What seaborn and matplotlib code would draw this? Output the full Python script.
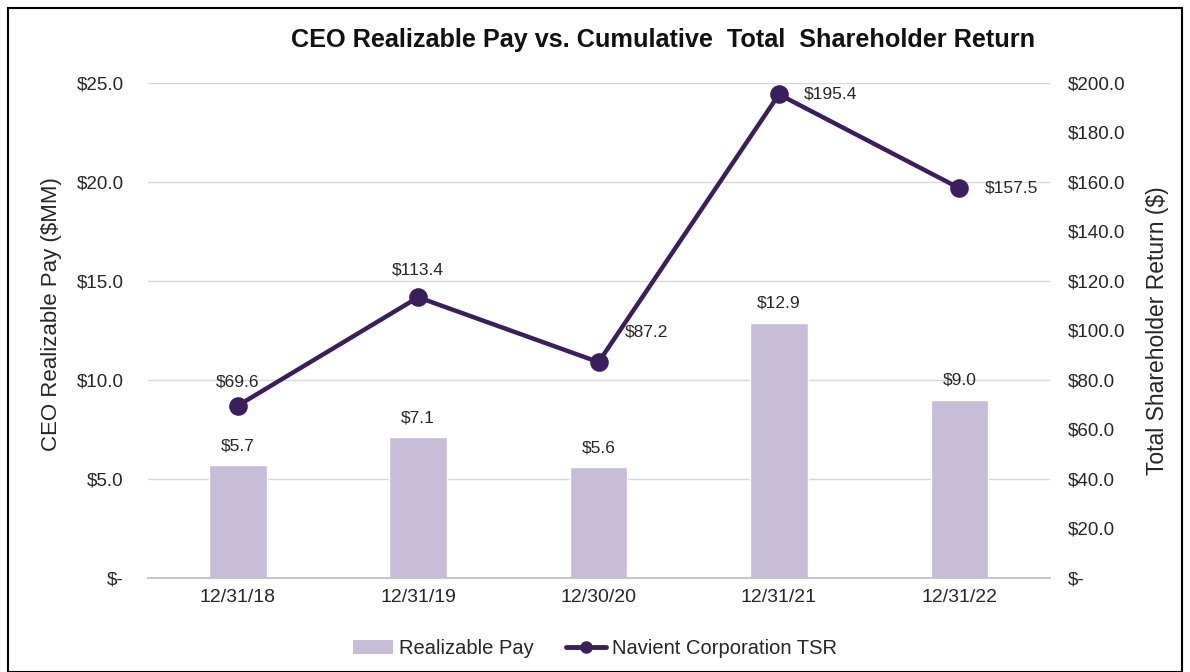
import matplotlib
matplotlib.use("Agg")
import matplotlib.pyplot as plt
import matplotlib.ticker as mticker
from matplotlib.lines import Line2D
from matplotlib.patches import Patch, Rectangle
import seaborn as sns
import pandas as pd

# data
dates = ["12/31/18", "12/31/19", "12/30/20", "12/31/21", "12/31/22"]
pay = [5.7, 7.1, 5.6, 12.9, 9.0]
tsr = [69.6, 113.4, 87.2, 195.4, 157.5]

bar_color = "#c8bdd9"
line_color = "#3b1f5c"
text_color = "#262626"

sns.set_theme(style="white")
plt.rcParams["font.family"] = ["Liberation Sans", "DejaVu Sans"]

df = pd.DataFrame({"date": dates, "pay": pay, "tsr": tsr})

fig = plt.figure(figsize=(11.9, 6.72), dpi=100)
ax = fig.add_axes([0.124, 0.140, 0.758, 0.7365])

sns.barplot(data=df, x="date", y="pay", color=bar_color, width=0.32,
            saturation=1, ax=ax, zorder=2)
ax.set_ylim(0, 25)
ax.set_yticks([0, 5, 10, 15, 20, 25])
ax.yaxis.set_major_formatter(mticker.FuncFormatter(
    lambda v, p: "$-" if v == 0 else f"${v:.1f}"))
ax.grid(axis="y", color="#d9d9d9", linewidth=1, zorder=0)
ax.set_xlabel("")
ax.set_ylabel("CEO Realizable Pay ($MM)", fontsize=16, color=text_color)
ax.yaxis.set_label_coords(-0.095, 0.533)
ax.tick_params(axis="y", labelsize=13.5, colors=text_color, length=0, pad=17)
ax.tick_params(axis="x", labelsize=14, colors=text_color, length=0, pad=8)
for s in ["top", "left", "right"]:
    ax.spines[s].set_visible(False)
ax.spines["bottom"].set_color("#bfbfbf")
ax.set_xticks([i + 0.5 for i in range(-1, len(dates))], minor=True)
ax.tick_params(axis="x", which="minor", length=4, color="#bfbfbf", direction="out")

for i, v in enumerate(pay):
    ax.text(i, v + 0.6, f"${v:.1f}", ha="center", va="bottom", fontsize=12.5,
            color=text_color)

ax2 = ax.twinx()
sns.pointplot(data=df, x="date", y="tsr", color=line_color, ax=ax2,
              markersize=11, linewidth=3.2, zorder=5)
ax2.set_ylim(0, 200)
ax2.set_yticks(range(0, 201, 20))
ax2.yaxis.set_major_formatter(mticker.FuncFormatter(
    lambda v, p: "$-" if v == 0 else f"${v:.1f}"))
ax2.tick_params(axis="y", labelsize=13.5, colors=text_color, length=0, pad=13)
ax2.set_ylabel("Total Shareholder Return ($)", fontsize=16.5, color=text_color,
               labelpad=15)
for s in ["top", "left", "right", "bottom"]:
    ax2.spines[s].set_visible(False)
ax2.set_xlabel("")

# value labels for the line
offsets = [(0, 12, "center", "bottom"), (0, 14, "center", "bottom"),
           (19, 22, "left", "center"), (18, 0, "left", "center"),
           (18, 0, "left", "center")]
for i, (v, (dx, dy, ha, va)) in enumerate(zip(tsr, offsets)):
    ax2.annotate(f"${v:.1f}", (i, v), xytext=(dx, dy), textcoords="offset points",
                 ha=ha, va=va, fontsize=12.5, color=text_color)

fig.text(0.557, 0.94, "CEO Realizable Pay vs. Cumulative  Total  Shareholder Return",
         ha="center", va="center", fontsize=18.2, fontweight="bold", color="#111111")

handles = [Patch(facecolor=bar_color, edgecolor="none"),
           Line2D([0], [0], color=line_color, linewidth=3.5, marker="o", markersize=8)]
fig.legend(handles, ["Realizable Pay", "Navient Corporation TSR"],
           loc="center", bbox_to_anchor=(0.50, 0.035), ncol=2, frameon=False,
           fontsize=14.5, handlelength=2.0, handletextpad=0.3, columnspacing=1.6)

fig.patches.append(Rectangle((0.007, 0.0), 0.986, 0.988, transform=fig.transFigure,
                             fill=False, edgecolor="black", linewidth=1.5))

fig.savefig("out.png", dpi=100)
